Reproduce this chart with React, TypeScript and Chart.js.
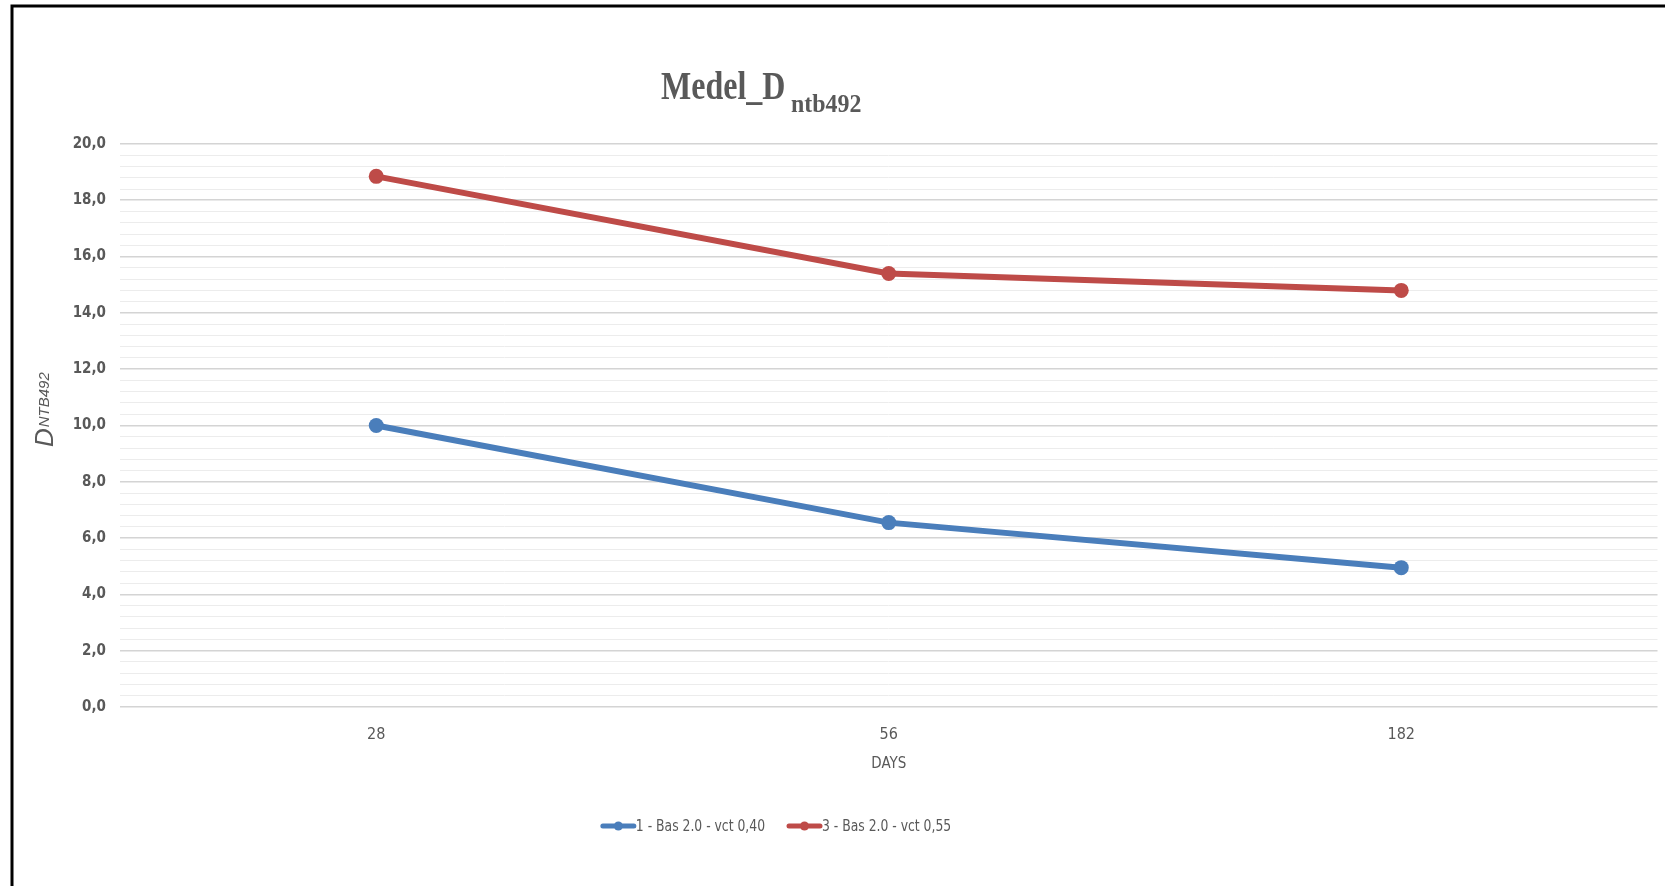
import React, { useEffect, useRef } from "react";
import { Chart, registerables } from "chart.js";

Chart.register(...registerables);

const CATEGORIES = ["28", "56", "182"];
const SERIES_1_LABEL = "1 - Bas 2.0 - vct 0,40";
const SERIES_1 = [10.0, 6.55, 4.95];
const SERIES_3_LABEL = "3 - Bas 2.0 - vct 0,55";
const SERIES_3 = [18.85, 15.4, 14.8];
const Y_MIN = 0;
const Y_MAX = 20;
const Y_MINOR_STEP = 0.4;
const Y_MAJOR_STEP = 2;
const TITLE_MAIN = "Medel_D";
const TITLE_SUB = "ntb492";
const Y_TITLE_MAIN = "D";
const Y_TITLE_SUB = "NTB492";
const X_TITLE = "DAYS";

const BLUE = "#4A7EBB";
const RED = "#BE4B48";
const TEXT = "#595959";
const NARROW = "'Liberation Sans Narrow', 'DejaVu Sans Condensed', 'Liberation Sans', sans-serif";

const isMajor = (v: number) => Math.abs(v / Y_MAJOR_STEP - Math.round(v / Y_MAJOR_STEP)) < 1e-6;

const decorPlugin = {
  id: "decor",
  afterDraw(chart: any) {
    const ctx = chart.ctx as CanvasRenderingContext2D;
    const area = chart.chartArea;
    ctx.save();
    // frame (top + left)
    ctx.strokeStyle = "#000";
    ctx.lineWidth = 3;
    ctx.beginPath();
    ctx.moveTo(12, chart.height);
    ctx.lineTo(12, 6);
    ctx.lineTo(chart.width, 6);
    ctx.stroke();

    // title with subscript
    ctx.fillStyle = TEXT;
    ctx.textBaseline = "alphabetic";
    ctx.textAlign = "left";
    ctx.save();
    ctx.translate(661, 99);
    ctx.scale(0.8, 1);
    ctx.font = "bold 40px 'Liberation Serif', 'DejaVu Serif', serif";
    ctx.fillText(TITLE_MAIN, 0, 0);
    ctx.restore();
    ctx.save();
    ctx.translate(791, 112);
    ctx.scale(0.92, 1);
    ctx.font = "bold 26px 'Liberation Serif', 'DejaVu Serif', serif";
    ctx.fillText(TITLE_SUB, 0, 0);
    ctx.restore();

    // y axis title (rotated)
    ctx.save();
    ctx.translate(53, 447);
    ctx.rotate(-Math.PI / 2);
    ctx.font = "italic 26px 'Liberation Sans', sans-serif";
    ctx.fillText(Y_TITLE_MAIN, 0, 0);
    const dW = ctx.measureText(Y_TITLE_MAIN).width;
    ctx.font = "italic 15px 'Liberation Sans', sans-serif";
    ctx.fillText(Y_TITLE_SUB, dW + 1, -4);
    ctx.restore();

    // x axis title
    ctx.font = `15px ${NARROW}`;
    ctx.textAlign = "center";
    ctx.textBaseline = "middle";
    ctx.fillText(X_TITLE, (area.left + area.right) / 2, 764);

    // legend
    const sx = 0.86;
    ctx.font = `16px ${NARROW}`;
    ctx.textAlign = "left";
    const sym = 35;
    const gap = 22;
    const items = chart.data.datasets.map((ds: any) => ({
      label: ds.label as string,
      color: ds.borderColor as string,
      w: sym + ctx.measureText(ds.label).width * sx,
    }));
    const total = items.reduce((s: number, it: any) => s + it.w, 0) + gap * (items.length - 1);
    let x = 776 - total / 2;
    const y = 826;
    for (const it of items) {
      ctx.strokeStyle = it.color;
      ctx.lineWidth = 5;
      ctx.lineCap = "round";
      ctx.beginPath();
      ctx.moveTo(x + 2, y);
      ctx.lineTo(x + sym - 2, y);
      ctx.stroke();
      ctx.fillStyle = it.color;
      ctx.beginPath();
      ctx.arc(x + sym / 2, y, 4.5, 0, Math.PI * 2);
      ctx.fill();
      ctx.fillStyle = TEXT;
      ctx.save();
      ctx.translate(x + sym, y + 1);
      ctx.scale(sx, 1);
      ctx.fillText(it.label, 0, 0);
      ctx.restore();
      x += it.w + gap;
    }
    ctx.restore();
  },
};

export default function App() {
  const ref = useRef<HTMLCanvasElement>(null);
  useEffect(() => {
    if (!ref.current) return;
    const chart = new Chart(ref.current, {
      type: "line",
      data: {
        labels: CATEGORIES,
        datasets: [
          {
            label: SERIES_1_LABEL,
            data: SERIES_1,
            borderColor: BLUE,
            backgroundColor: BLUE,
            borderWidth: 6,
            pointRadius: 7.5,
            pointHoverRadius: 7.5,
            pointBorderWidth: 0,
            tension: 0,
          },
          {
            label: SERIES_3_LABEL,
            data: SERIES_3,
            borderColor: RED,
            backgroundColor: RED,
            borderWidth: 6,
            pointRadius: 7.5,
            pointHoverRadius: 7.5,
            pointBorderWidth: 0,
            tension: 0,
          },
        ],
      },
      options: {
        animation: false,
        responsive: false,
        layout: { padding: { left: 0, right: 7, top: 144, bottom: 0 } },
        plugins: {
          legend: { display: false },
          title: { display: false },
          tooltip: { enabled: false },
        },
        scales: {
          x: {
            offset: true,
            grid: { display: false, drawTicks: false },
            border: { display: false },
            ticks: {
              color: TEXT,
              padding: 18,
              font: { family: NARROW, size: 16 },
            },
            afterFit: (s: any) => {
              s.height = 179;
            },
          },
          y: {
            min: Y_MIN,
            max: Y_MAX,
            border: { display: false },
            grid: {
              drawTicks: false,
              color: (c: any) => (isMajor(c.tick.value) ? "#d4d4d4" : "#ececec"),
              lineWidth: (c: any) => (isMajor(c.tick.value) ? 1.6 : 1),
            },
            ticks: {
              stepSize: Y_MINOR_STEP,
              autoSkip: false,
              padding: 14,
              color: TEXT,
              font: { family: NARROW, size: 15, weight: "bold" },
              callback: (v: any) => (isMajor(Number(v)) ? Number(v).toFixed(1).replace(".", ",") : ""),
            },
            afterFit: (s: any) => {
              s.width = 120;
            },
          },
        },
      },
      plugins: [decorPlugin],
    });
    return () => chart.destroy();
  }, []);
  return (
    <div style={{ position: "absolute", left: 0, top: 0, width: 1665, height: 886, background: "#fff" }}>
      <canvas ref={ref} width={1665} height={886} />
    </div>
  );
}
